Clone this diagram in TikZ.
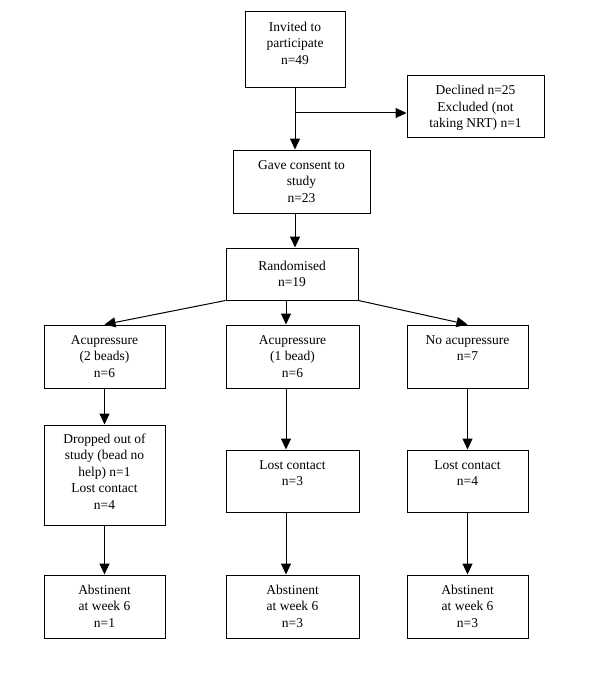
\documentclass[tikz,border=0pt]{standalone}
\usepackage{fontspec}
\setmainfont{Liberation Serif}
\usetikzlibrary{arrows.meta}
\begin{document}
\begin{tikzpicture}[x=1pt,y=-1pt,
  box/.style={draw, line width=1pt, inner sep=0pt},
  txt/.style={anchor=north, inner sep=0pt, align=center, font=\fontsize{13.5}{16.5}\selectfont},
  arr/.style={line width=1pt, -{Triangle[length=11pt,width=10pt]}}]
\useasboundingbox[fill=white] (0,0) rectangle (600,690);
% boxes: centre, width, height
\node[box, minimum width=100pt, minimum height=76pt] (inv) at (295,50) {};
\node[box, minimum width=137pt, minimum height=61pt] (dec) at (475.5,106.5) {};
\node[box, minimum width=137pt, minimum height=63pt] (gc) at (301.5,181.5) {};
\node[box, minimum width=132pt, minimum height=52pt] (rand) at (292,274) {};
\node[box, minimum width=121pt, minimum height=63pt] (a1) at (104.5,356.5) {};
\node[box, minimum width=133pt, minimum height=63pt] (b1) at (292.5,356.5) {};
\node[box, minimum width=121pt, minimum height=63pt] (c1) at (467.5,356.5) {};
\node[box, minimum width=121pt, minimum height=100pt] (a2) at (104.5,475) {};
\node[box, minimum width=133pt, minimum height=62pt] (b2) at (292.5,481) {};
\node[box, minimum width=121pt, minimum height=62pt] (c2) at (467.5,481) {};
\node[box, minimum width=121pt, minimum height=63pt] (a3) at (104.5,606.5) {};
\node[box, minimum width=133pt, minimum height=63pt] (b3) at (292.5,606.5) {};
\node[box, minimum width=121pt, minimum height=63pt] (c3) at (467.5,606.5) {};
% texts
\node[txt] (invt) at ([yshift=-10pt]inv.north) {Invited to\\participate\\n=49};
\node[txt] (dect) at ([yshift=-9.5pt]dec.north) {Declined n=25\\Excluded (not\\taking NRT) n=1};
\node[txt] (gct) at ([yshift=-10.5pt]gc.north) {Gave consent to\\study\\n=23};
\node[txt] (randt) at ([yshift=-13pt]rand.north) {Randomised\\n=19};
\node[txt] (a1t) at ([yshift=-10.5pt]a1.north) {Acupressure\\(2 beads)\\n=6};
\node[txt] (b1t) at ([yshift=-10.5pt]b1.north) {Acupressure\\(1 bead)\\n=6};
\node[txt] (c1t) at ([yshift=-10.5pt]c1.north) {No acupressure\\n=7};
\node[txt] (a2t) at ([yshift=-9pt]a2.north) {Dropped out of\\study (bead no\\help) n=1\\Lost contact\\n=4};
\node[txt] (b2t) at ([yshift=-10.5pt]b2.north) {Lost contact\\n=3};
\node[txt] (c2t) at ([yshift=-10.5pt]c2.north) {Lost contact\\n=4};
\node[txt] (a3t) at ([yshift=-10pt]a3.north) {Abstinent\\at week 6\\n=1};
\node[txt] (b3t) at ([yshift=-10pt]b3.north) {Abstinent\\at week 6\\n=3};
\node[txt] (c3t) at ([yshift=-10pt]c3.north) {Abstinent\\at week 6\\n=3};
% connectors
\coordinate (br) at (inv.south |- 0,113);
\coordinate (mid) at (286,300);
\draw[arr] (inv.south) -- (inv.south |- gc.north);
\draw[arr] (br) -- (br -| dec.west);
\draw[arr] (inv.south |- gc.south) -- (inv.south |- rand.north);
\draw[arr] (rand.south west) -- (a1.north);
\draw[arr] (mid) -- (mid |- b1.north);
\draw[arr] (rand.south east) -- (c1.north);
\draw[arr] (a1.south) -- (a2.north);
\draw[arr] (a2.south) -- (a3.north);
\draw[arr] (mid |- b1.south) -- (mid |- b2.north);
\draw[arr] (mid |- b2.south) -- (mid |- b3.north);
\draw[arr] (c1.south) -- (c2.north);
\draw[arr] (c2.south) -- (c3.north);
\end{tikzpicture}
\end{document}
